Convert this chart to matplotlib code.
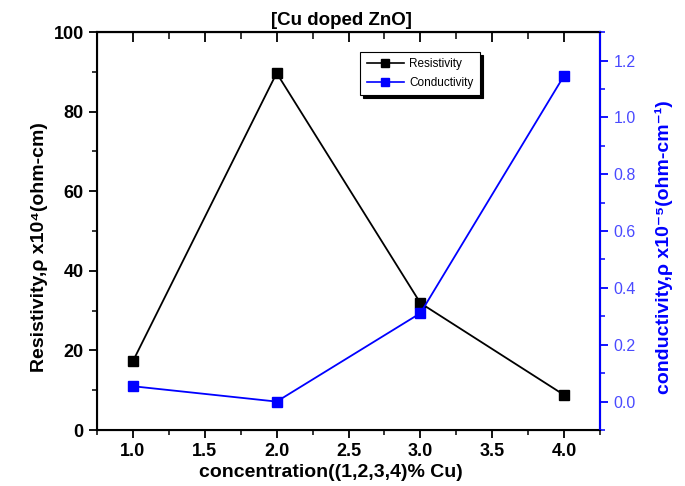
import matplotlib.pyplot as plt
from matplotlib.lines import Line2D
from matplotlib.ticker import MultipleLocator, NullFormatter

plt.rcParams['font.family'] = ['Liberation Sans', 'DejaVu Sans']

# datos
concentracion = [1.0, 2.0, 3.0, 4.0]
resistividad = [17.3, 89.7, 31.9, 8.8]
conductividad = [0.054, 0.0, 0.311, 1.147]

fig = plt.figure(figsize=(6.85, 4.86), dpi=100)
ax = fig.add_axes([0.1416, 0.1152, 0.7344, 0.8188])

ax.plot(concentracion, resistividad, color='black', marker='s', markersize=6.7, lw=1.3)
ax.set_xlim(0.75, 4.25)
ax.set_ylim(0, 100)
ax.xaxis.set_major_locator(MultipleLocator(0.5))
ax.xaxis.set_minor_locator(MultipleLocator(0.25))
ax.yaxis.set_major_locator(MultipleLocator(20))
ax.yaxis.set_minor_locator(MultipleLocator(10))
ax.tick_params(axis='both', which='major', direction='out', length=6, width=1.3, labelsize=13)
ax.tick_params(axis='both', which='minor', direction='out', length=3.5, width=1.1)
for lab in ax.get_xticklabels() + ax.get_yticklabels():
    lab.set_fontweight('bold')
for s in ax.spines.values():
    s.set_linewidth(1.5)

# eje superior con marcas hacia dentro
top = ax.secondary_xaxis('top')
top.xaxis.set_major_locator(MultipleLocator(0.5))
top.xaxis.set_minor_locator(MultipleLocator(0.25))
top.xaxis.set_major_formatter(NullFormatter())
top.tick_params(which='major', direction='in', length=7, width=1.3)
top.tick_params(which='minor', direction='in', length=5, width=1.1)
top.spines['top'].set_linewidth(1.5)

ax.set_xlabel('concentration((1,2,3,4)% Cu)', fontsize=14, fontweight='bold')
ax.xaxis.set_label_coords(0.465, -0.085)
ax.set_ylabel('Resistivity,ρ x10⁴(ohm-cm)', fontsize=14, fontweight='bold')
ax.yaxis.set_label_coords(-0.097, 0.46)
ax.set_title('[Cu doped ZnO]', fontsize=13.5, fontweight='bold', pad=5, x=0.485)

ax2 = ax.twinx()
ax2.plot(concentracion, conductividad, color='blue', marker='s', markersize=6.7, lw=1.3)
ax2.set_ylim(-0.1, 1.3)
ax2.yaxis.set_major_locator(MultipleLocator(0.2))
ax2.yaxis.set_minor_locator(MultipleLocator(0.1))
ax2.tick_params(axis='y', which='major', direction='out', length=6, width=1.3,
                colors='blue', labelsize=11.5, labelcolor='#4a4aff')
ax2.tick_params(axis='y', which='minor', direction='out', length=3.5, width=1.1, colors='blue')
ax2.spines['right'].set_color('blue')
ax2.spines['right'].set_linewidth(1.5)
ax2.set_ylabel('conductivity,ρ x10⁻⁵(ohm-cm⁻¹)', fontsize=14, fontweight='bold', color='blue')
ax2.yaxis.set_label_coords(1.109, 0.46)

handles = [Line2D([], [], color='black', marker='s', markersize=5.5, lw=1.2),
           Line2D([], [], color='blue', marker='s', markersize=5.5, lw=1.2)]
leg = ax.legend(handles, ['Resistivity', 'Conductivity'], loc='upper left',
                bbox_to_anchor=(0.523, 0.95), borderaxespad=0, fontsize=8.5, fancybox=False,
                shadow={'color': 'black', 'alpha': 1}, framealpha=1, edgecolor='black',
                handlelength=3.2, handletextpad=0.4, borderpad=0.55, labelspacing=0.55)
leg.get_frame().set_linewidth(0.8)

fig.savefig('out.png', dpi=100)
